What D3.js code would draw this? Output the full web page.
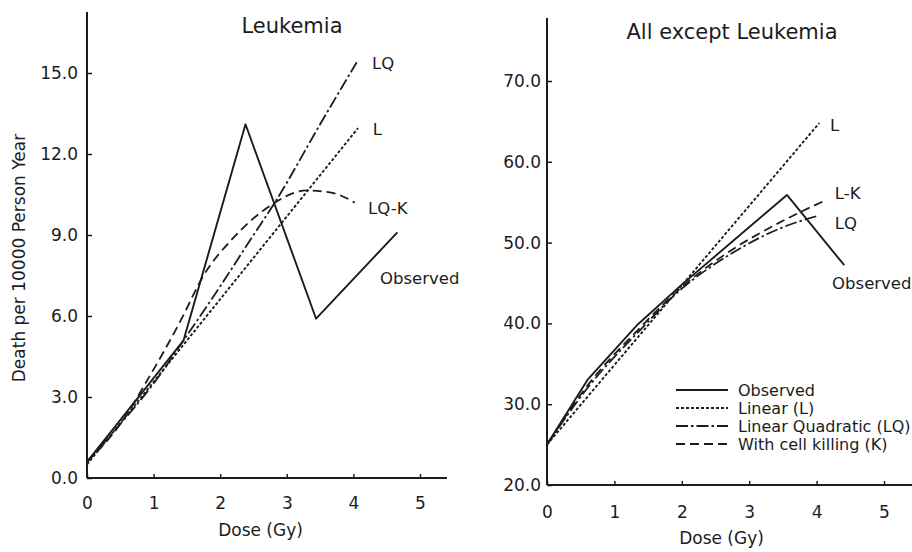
<!DOCTYPE html>
<html>
<head>
<meta charset="utf-8">
<script src="https://cdn.jsdelivr.net/npm/d3@7"></script>
<style>
  html, body { margin: 0; padding: 0; background: #fff; }
  svg { display: block; }
  text { font-family: "DejaVu Sans", sans-serif; fill: #1c1c1c; }
</style>
</head>
<body>
<svg id="chart" width="912" height="552"></svg>
<script>
// ---------------- data ----------------
const doseTicks = [0, 1, 2, 3, 4, 5];
const leukYTicks = [0, 3, 6, 9, 12, 15];
const otherYTicks = [20, 30, 40, 50, 60, 70];

// Leukemia panel  [dose (Gy), deaths per 10000 PY]
const leukObserved = [[0, 0.6], [1.45, 5.1], [2.38, 13.1], [3.44, 5.9], [4.66, 9.1]];
const leukLinear   = [[0, 0.5], [4.07, 12.96]];
const leukLQ       = [[0, 0.6], [0.5, 2.0], [1.0, 3.5], [1.45, 5.1], [2.0, 7.1], [2.5, 9.0], [2.82, 10.2], [3.5, 13.1], [4.05, 15.4]];
const leukLQK      = [[0, 0.6], [0.5, 2.0], [0.9, 3.6], [1.4, 5.8], [1.75, 7.5], [2.2, 8.9], [2.7, 10.0], [3.3, 10.65], [3.7, 10.55], [4.02, 10.2]];

// All except leukemia panel
const otherObserved = [[0, 25.0], [0.6, 33.0], [1.35, 39.9], [2.0, 44.8], [3.56, 55.9], [4.41, 47.2]];
const otherLinear   = [[0, 25.0], [4.04, 64.8]];
const otherLQ       = [[0, 25.0], [0.6, 32.0], [1.35, 38.9], [2.0, 44.3], [2.67, 48.3], [3.5, 51.9], [4.01, 53.3]];
const otherLK       = [[0, 25.0], [0.6, 32.3], [1.35, 39.2], [2.0, 44.5], [2.67, 48.7], [3.5, 52.7], [4.15, 55.3]];

// line-end labels (anchored in data space)
const leukLabels  = [["LQ", 4.28, 15.37], ["L", 4.29, 12.9], ["LQ-K", 4.22, 10.0], ["Observed", 4.4, 7.4]];
const otherLabels = [["L", 4.2, 64.55], ["L-K", 4.27, 56.1], ["LQ", 4.27, 52.4], ["Observed", 4.23, 45.0]];

const legendItems = ["Observed", "Linear (L)", "Linear Quadratic (LQ)", "With cell killing (K)"];

// ---------------- styles ----------------
const styles = {
  obs: { dash: null, w: 1.9 },
  lin: { dash: "3,2", w: 1.9 },
  lq:  { dash: "12,3,2.5,3", w: 1.8 },
  k:   { dash: "9,5", w: 1.8 }
};
const ink = "#1c1c1c";

const svg = d3.select("#chart");

function panel(cfg) {
  const x = d3.scaleLinear().domain([0, 5]).range(cfg.xr);
  const y = d3.scaleLinear().domain(cfg.yd).range(cfg.yr);
  const g = svg.append("g");

  // axis lines
  g.append("line").attr("x1", x(0)).attr("x2", x(0)).attr("y1", y(cfg.yd[0])).attr("y2", cfg.axisTop)
    .attr("stroke", ink).attr("stroke-width", 2);
  g.append("line").attr("x1", x(0)).attr("x2", cfg.axisRight).attr("y1", y(cfg.yd[0])).attr("y2", y(cfg.yd[0]))
    .attr("stroke", ink).attr("stroke-width", 2);

  const ya = d3.axisLeft(y).tickValues(cfg.yTicks).tickFormat(d3.format(".1f"))
    .tickSizeInner(-5).tickSizeOuter(0).tickPadding(cfg.yPad);
  const yg = g.append("g").attr("transform", `translate(${x(0)},0)`).call(ya);
  const xa = d3.axisBottom(x).tickValues(doseTicks).tickFormat(d3.format("d"))
    .tickSizeInner(-4).tickSizeOuter(0).tickPadding(cfg.xPad);
  const xg = g.append("g").attr("transform", `translate(0,${y(cfg.yd[0])})`).call(xa);
  [yg, xg].forEach(a => {
    a.select(".domain").remove();
    a.selectAll(".tick line").attr("stroke", ink).attr("stroke-width", 1.5);
    a.selectAll(".tick text").attr("font-size", 17).attr("font-family", "DejaVu Sans").attr("fill", ink);
  });

  // series
  const line = d3.line().x(d => x(d[0])).y(d => y(d[1])).curve(d3.curveMonotoneX);
  const lineStraight = d3.line().x(d => x(d[0])).y(d => y(d[1]));
  cfg.series.forEach(s => {
    const st = styles[s.style];
    g.append("path").datum(s.data)
      .attr("d", s.style === "obs" ? lineStraight : line)
      .attr("fill", "none").attr("stroke", ink).attr("stroke-width", st.w)
      .attr("stroke-dasharray", st.dash).attr("stroke-linejoin", "round");
  });

  // labels
  cfg.labels.forEach(l => {
    g.append("text").attr("x", x(l[1])).attr("y", y(l[2])).attr("dy", "0.35em")
      .attr("font-size", 16.5).text(l[0]);
  });

  // title
  g.append("text").attr("x", cfg.title[1]).attr("y", cfg.title[2]).attr("text-anchor", "middle")
    .attr("font-size", 21).text(cfg.title[0]);
  // x title
  g.append("text").attr("x", (x(0) + x(5)) / 2 + cfg.xTitleShift).attr("y", cfg.xTitleY).attr("text-anchor", "middle")
    .attr("font-size", 17).text("Dose (Gy)");
  return { x, y, g };
}

const left = panel({
  xr: [87, 420], yd: [0, 15], yr: [478, 73], axisTop: 12, axisRight: 447,
  yTicks: leukYTicks, yPad: 9, xPad: 19,
  series: [
    { data: leukObserved, style: "obs" }, { data: leukLinear, style: "lin" },
    { data: leukLQ, style: "lq" }, { data: leukLQK, style: "k" }
  ],
  labels: leukLabels, title: ["Leukemia", 292, 33], xTitleShift: 7, xTitleY: 536
});

const right = panel({
  xr: [547, 884], yd: [20, 70], yr: [485, 81], axisTop: 18, axisRight: 912,
  yTicks: otherYTicks, yPad: 6, xPad: 21,
  series: [
    { data: otherObserved, style: "obs" }, { data: otherLinear, style: "lin" },
    { data: otherLQ, style: "lq" }, { data: otherLK, style: "k" }
  ],
  labels: otherLabels, title: ["All except Leukemia", 732, 39], xTitleShift: 6, xTitleY: 544
});

// y axis title (left)
svg.append("text").attr("transform", "translate(25,258) rotate(-90)").attr("text-anchor", "middle")
  .attr("font-size", 17).text("Death per 10000 Person Year");

// legend
const lg = svg.append("g").attr("transform", "translate(676,390)");
const legStyles = ["obs", "lin", "lq", "k"];
legendItems.forEach((t, i) => {
  const st = styles[legStyles[i]];
  lg.append("line").attr("x1", 0).attr("x2", 52).attr("y1", i * 18).attr("y2", i * 18)
    .attr("stroke", ink).attr("stroke-width", st.w).attr("stroke-dasharray", st.dash);
  lg.append("text").attr("x", 62).attr("y", i * 18).attr("dy", "0.35em").attr("font-size", 16).text(t);
});
</script>
</body>
</html>
